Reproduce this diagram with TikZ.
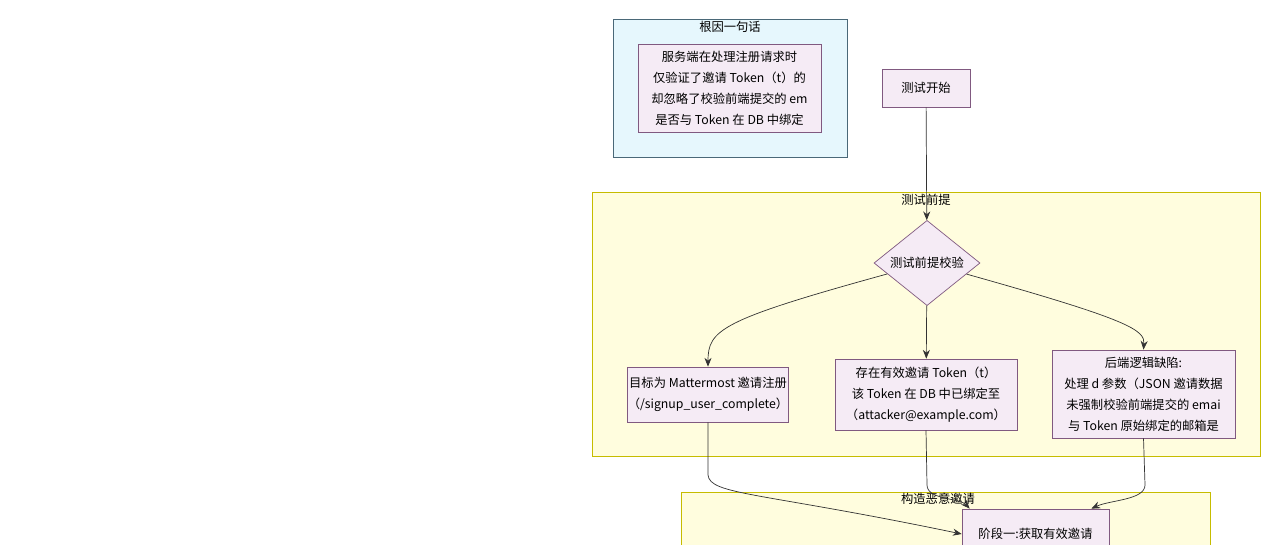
\documentclass[tikz,border=0pt]{standalone}
\usepackage{fontspec}
\newfontfamily\cjk{Noto Sans CJK SC}
\usetikzlibrary{arrows.meta,shapes.geometric,calc}
\tikzset{
  box/.style={draw=gray!70!violet, fill=violet!8, align=center, font=\cjk\fontsize{7}{12}\selectfont, inner sep=0pt},
  clusterY/.style={draw=yellow!50!olive, fill=yellow!13},
  flow/.style={draw=black!80, -{Stealth[length=5pt,width=4pt]}},
  title/.style={font=\cjk\fontsize{7}{9}\selectfont}
}
\begin{document}
\begin{tikzpicture}[x=0.02cm,y=-0.02cm]
    \useasboundingbox (0,0) rectangle (1280,544);
    %%clusters
    \draw[draw=cyan!40!black, fill=cyan!10] (613,19) rectangle (847,157);
    \node[title] (rootTitle) at (730,27) {根因一句话};
    \draw[clusterY] (592,192) rectangle (1260,456);
    \node[title] (preTitle) at (926,200) {测试前提};
    \draw[clusterY] (681,492) rectangle (1210,560);
    \node[title] (craftTitle) at (938,499) {构造恶意邀请};
    %%nodes
    \node[box, minimum width=183*0.02cm, minimum height=88*0.02cm] (rootText) at (729.5,88)
      {服务端在处理注册请求时\\仅验证了邀请 Token（t）的\\却忽略了校验前端提交的 em\\是否与 Token 在 DB 中绑定};
    \node[box, minimum width=88*0.02cm, minimum height=38*0.02cm] (start) at (926,88) {测试开始};
    \node[box, diamond, aspect=1, minimum width=106*0.02cm] (precheck) at (927,263) {测试前提校验};
    \node[box, minimum width=140*0.02cm, minimum height=55*0.02cm] (target) at (708,394.5)
      {目标为 Mattermost 邀请注册\\（/signup\_user\_complete）};
    \node[box, minimum width=182*0.02cm, minimum height=71*0.02cm] (token) at (926,394.5)
      {存在有效邀请 Token（t）\\该 Token 在 DB 中已绑定至\\（attacker@example.com）};
    \node[box, minimum width=183*0.02cm, minimum height=88*0.02cm] (flaw) at (1143.5,394)
      {后端逻辑缺陷:\\处理 d 参数（JSON 邀请数据\\未强制校验前端提交的 emai\\与 Token 原始绑定的邮箱是};
    \node[box, minimum width=147*0.02cm, minimum height=50*0.02cm] (phase1) at (1035.5,534) {阶段一:获取有效邀请};
    %%edges
    \draw[flow] (start) -- (precheck);
    \draw[flow] (precheck) .. controls (720,320) and (708,330) .. (target.north);
    \draw[flow] (precheck) -- (token);
    \draw[flow] (precheck) .. controls (1130,320) and (1145,330) .. (flaw.north);
    \draw[flow] (target.south) -- (708,475) .. controls (710,495) and (760,492) .. (phase1.west);
    \draw[flow] (token.south) -- (927,485) .. controls (927,500) and (960,498) .. ($(phase1.north west)+(8,0)$);
    \draw[flow] (flaw.south) -- (1145,485) .. controls (1145,500) and (1110,500) .. ($(phase1.north east)+(-18,0)$);
\end{tikzpicture}
\end{document}
